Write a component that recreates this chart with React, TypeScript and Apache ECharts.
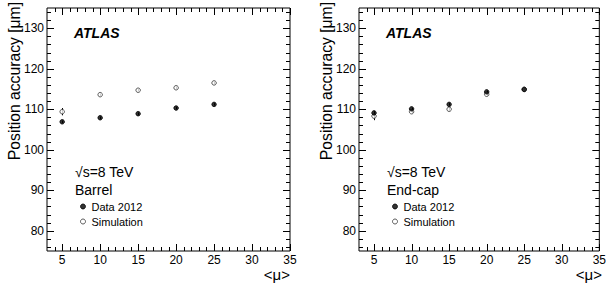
import React, { useEffect, useRef } from 'react';
import * as echarts from 'echarts';

// ---- data ----
const muValues = [5, 10, 15, 20, 25];
const barrelData = [106.9, 107.9, 108.9, 110.3, 111.2];
const barrelDataErr = [0.3, 0.3, 0.3, 0.3, 0.3];
const barrelSim = [109.4, 113.6, 114.7, 115.3, 116.5];
const barrelSimErr = [0.9, 0.3, 0.3, 0.3, 0.3];
const endcapData = [109.1, 110.1, 111.2, 114.3, 114.9];
const endcapDataErr = [0.4, 0.3, 0.3, 0.3, 0.3];
const endcapSim = [108.3, 109.4, 110.0, 113.7, 114.9];
const endcapSimErr = [1.0, 0.4, 0.4, 0.4, 0.4];

// ---- axis ticks / labels ----
const xLabels = [5, 10, 15, 20, 25, 30, 35];
const yLabels = [80, 90, 100, 110, 120, 130];
const xMinorTicks = [4, 6, 7, 8, 9, 11, 12, 13, 14, 16, 17, 18, 19, 21, 22, 23, 24, 26, 27, 28, 29, 31, 32, 33, 34];
const yMinorTicks = [76, 78, 82, 84, 86, 88, 92, 94, 96, 98, 102, 104, 106, 108, 112, 114, 116, 118, 122, 124, 126, 128, 132, 134];

const FONT = '"Liberation Sans", Arial, Helvetica, sans-serif';

const tickData = [
  ...xLabels.map((v) => [v, 100, 0]),
  ...xMinorTicks.map((v) => [v, 100, 1]),
  ...yLabels.map((v) => [10, v, 2]),
  ...yMinorTicks.map((v) => [10, v, 3]),
];

function tickRender(params: any, api: any) {
  const cs = params.coordSys;
  const kind = api.value(2);
  const p = api.coord([api.value(0), api.value(1)]);
  const major = kind === 0 || kind === 2;
  const len = major ? 7 : 4;
  const style = { stroke: '#000', lineWidth: 1 };
  if (kind < 2) {
    const x = Math.round(p[0]) + 0.5;
    const yb = cs.y + cs.height;
    return {
      type: 'group',
      children: [
        { type: 'line', shape: { x1: x, y1: yb, x2: x, y2: yb - len }, style },
        { type: 'line', shape: { x1: x, y1: cs.y, x2: x, y2: cs.y + len }, style },
      ],
    };
  }
  const y = Math.round(p[1]) + 0.5;
  const xr = cs.x + cs.width;
  return {
    type: 'group',
    children: [
      { type: 'line', shape: { x1: cs.x, y1: y, x2: cs.x + len, y2: y }, style },
      { type: 'line', shape: { x1: xr, y1: y, x2: xr - len, y2: y }, style },
    ],
  };
}

function errRender(params: any, api: any) {
  const lo = api.coord([api.value(0), api.value(1)]);
  const hi = api.coord([api.value(0), api.value(2)]);
  const x = Math.round(lo[0]) + 0.5;
  return {
    type: 'line',
    shape: { x1: x, y1: lo[1], x2: x, y2: hi[1] },
    style: { stroke: '#000', lineWidth: 1 },
  };
}

function errData(vals: number[], errs: number[]) {
  return muValues.map((x, i) => [x, vals[i] - errs[i], vals[i] + errs[i]]);
}
function ptData(vals: number[]) {
  return muValues.map((x, i) => [x, vals[i]]);
}

const dataStyle = { color: '#000', borderColor: '#000', borderWidth: 1 };
const simStyle = { color: '#fff', borderColor: '#333', borderWidth: 1 };

function xAxisCfg(gridIndex: number) {
  return {
    type: 'value',
    gridIndex,
    min: 3,
    max: 35,
    axisLine: { show: false },
    axisTick: { show: false },
    splitLine: { show: false },
    axisLabel: {
      customValues: xLabels,
      formatter: (v: number) => (v % 5 === 0 ? String(v) : ''),
      margin: 3,
      fontSize: 12,
      color: '#000',
      fontFamily: FONT,
    },
  };
}
function yAxisCfg(gridIndex: number) {
  return {
    type: 'value',
    gridIndex,
    min: 75,
    max: 135,
    axisLine: { show: false },
    axisTick: { show: false },
    splitLine: { show: false },
    axisLabel: {
      customValues: yLabels,
      formatter: (v: number) => (v % 10 === 0 && v >= 80 && v <= 130 ? String(v) : ''),
      margin: 3,
      fontSize: 12,
      color: '#000',
      fontFamily: FONT,
    },
  };
}

function panelSeries(gi: number, dVals: number[], dErr: number[], sVals: number[], sErr: number[]) {
  return [
    {
      type: 'custom',
      xAxisIndex: gi,
      yAxisIndex: gi,
      renderItem: errRender,
      data: errData(dVals, dErr),
      encode: { x: 0, y: [1, 2] },
      z: 2,
      silent: true,
    },
    {
      type: 'custom',
      xAxisIndex: gi,
      yAxisIndex: gi,
      renderItem: errRender,
      data: errData(sVals, sErr),
      encode: { x: 0, y: [1, 2] },
      z: 2,
      silent: true,
    },
    {
      name: 'Simulation',
      type: 'scatter',
      xAxisIndex: gi,
      yAxisIndex: gi,
      symbol: 'circle',
      symbolSize: 4.5,
      itemStyle: simStyle,
      data: ptData(sVals),
      z: 3,
    },
    {
      name: 'Data 2012',
      type: 'scatter',
      xAxisIndex: gi,
      yAxisIndex: gi,
      symbol: 'circle',
      symbolSize: 4.5,
      itemStyle: dataStyle,
      data: ptData(dVals),
      z: 4,
    },
    {
      type: 'custom',
      xAxisIndex: gi,
      yAxisIndex: gi,
      renderItem: tickRender,
      data: tickData,
      encode: { x: 0, y: 1 },
      z: 5,
      silent: true,
    },
  ];
}

function legendCfg(left: number) {
  return {
    data: [
      { name: 'Data 2012', icon: 'circle', itemStyle: dataStyle },
      { name: 'Simulation', icon: 'circle', itemStyle: simStyle },
    ],
    orient: 'vertical',
    left,
    top: 200,
    itemWidth: 5,
    itemHeight: 5,
    itemGap: 2,
    selectedMode: false,
    padding: 0,
    textStyle: { fontSize: 11, color: '#000', fontFamily: FONT, lineHeight: 13, padding: [0, 0, 0, 1] },
  };
}

function panelTexts(px: number, plotLeft: number, plotRight: number, region: string) {
  const t = (text: string, x: number, y: number, extra: any = {}) => ({
    type: 'text',
    x,
    y,
    style: { text, fill: '#000', font: `14px ${FONT}`, verticalAlign: 'middle', ...extra },
  });
  return [
    t('ATLAS', plotLeft + 27, 33, { font: `italic bold 14px ${FONT}` }),
    t('√s=8 TeV', plotLeft + 28, 172),
    t(region, plotLeft + 28, 190),
    {
      type: 'text',
      x: px,
      y: 2,
      rotation: Math.PI / 2,
      style: {
        text: 'Position accuracy [μm]',
        fill: '#000',
        font: `15.7px ${FONT}`,
        align: 'right',
        verticalAlign: 'middle',
      },
    },
    t('<μ>', plotRight, 274, { font: `15px ${FONT}`, align: 'right' }),
  ];
}

export default function App() {
  const ref = useRef<HTMLDivElement>(null);
  useEffect(() => {
    if (!ref.current) return;
    const chart = echarts.init(ref.current, undefined, { renderer: 'svg' });
    chart.setOption({
      animation: false,
      backgroundColor: '#fff',
      grid: [
        { left: 47, right: 319, top: 8, bottom: 39, show: true, borderColor: '#000', borderWidth: 1, backgroundColor: 'transparent' },
        { left: 359, right: 7, top: 8, bottom: 39, show: true, borderColor: '#000', borderWidth: 1, backgroundColor: 'transparent' },
      ],
      xAxis: [xAxisCfg(0), xAxisCfg(1)],
      yAxis: [yAxisCfg(0), yAxisCfg(1)],
      legend: [legendCfg(80), legendCfg(392)],
      series: [
        ...panelSeries(0, barrelData, barrelDataErr, barrelSim, barrelSimErr),
        ...panelSeries(1, endcapData, endcapDataErr, endcapSim, endcapSimErr),
      ],
      graphic: [
        ...panelTexts(14, 47, 290, 'Barrel'),
        ...panelTexts(326, 359, 602, 'End-cap'),
      ],
    });
    return () => chart.dispose();
  }, []);
  return (
    <div
      ref={ref}
      style={{ position: 'fixed', left: 0, top: 0, width: 609, height: 290 }}
    />
  );
}
